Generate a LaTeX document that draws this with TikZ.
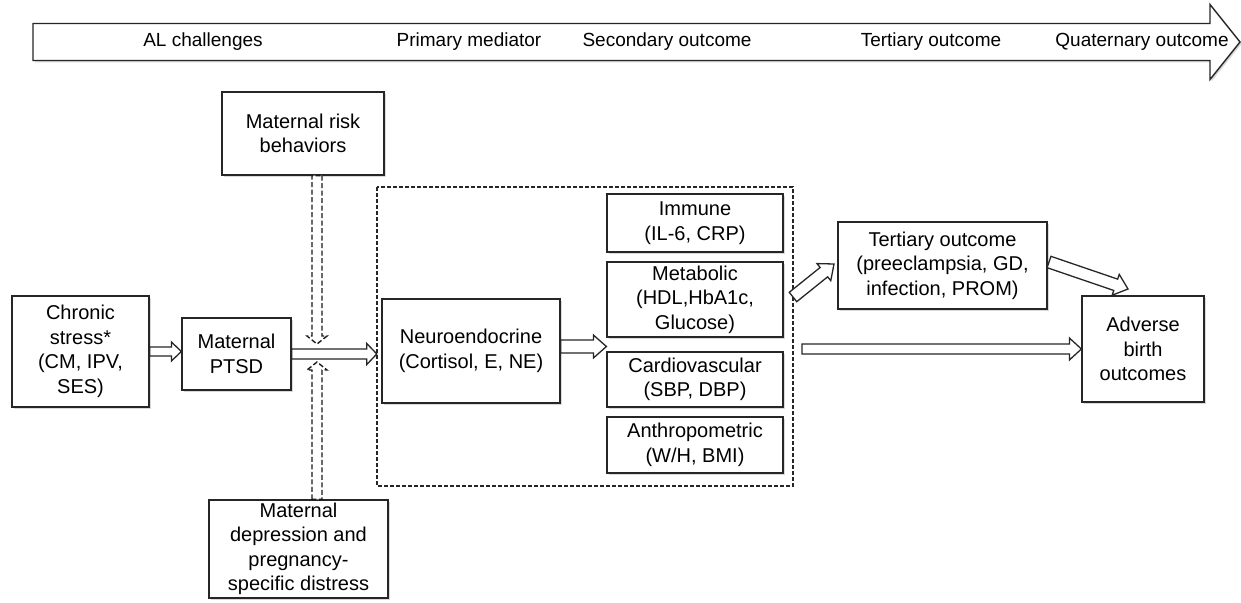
\documentclass[tikz,border=0pt]{standalone}
\usepackage{fontspec}
\setmainfont{Liberation Sans}
\usetikzlibrary{calc,shadows}
\newcommand\blockarrow[6][]{%
  \coordinate (bas) at (#2);
  \coordinate (bae) at (#3);
  \coordinate (bah) at ($(bae)!#6!(bas)$);
  \draw[#1] ($(bas)!#4!90:(bae)$) -- ($(bah)!#4!90:(bae)$) -- ($(bah)!#5!90:(bae)$)
    -- (bae) -- ($(bah)!#5!-90:(bae)$) -- ($(bah)!#4!-90:(bae)$) -- ($(bas)!#4!-90:(bae)$) -- cycle;
}
\tikzset{
  box/.style={draw=black!85, line width=1.2pt, fill=white, inner sep=0pt, align=center,
    font=\fontsize{20}{24.5}\selectfont,
    drop shadow={shadow xshift=1.5pt, shadow yshift=-2pt, fill=black!25, opacity=.6}},
  barrow/.style={draw=black!85, line width=1.3pt, fill=white, line join=miter},
  dbarrow/.style={draw=black!90, line width=1.4pt, fill=white, dash pattern=on 5pt off 2.5pt},
  toplabel/.style={font=\fontsize{19}{22}\selectfont, anchor=center}
}
\begin{document}
\begin{tikzpicture}[x=1pt,y=-1pt]
\useasboundingbox (0,0) rectangle (1241,602);
% timeline arrow
\coordinate (tl) at (33,42);
\coordinate (tr) at (1240,42);
\blockarrow[barrow, line width=1.4pt, drop shadow={shadow xshift=1.5pt, shadow yshift=-2pt, fill=black!25, opacity=.6}]{tl}{tr}{18.5pt}{37.5pt}{30pt}
\node[toplabel] (t1) at (203,42) {AL challenges};
\node[toplabel] (t2) at (469,42) {Primary mediator};
\node[toplabel] (t3) at (667,42) {Secondary outcome};
\node[toplabel] (t4) at (931,42) {Tertiary outcome};
\node[toplabel] (t5) at (1142,42) {Quaternary outcome};
% dashed frame
\draw[draw=black!85, line width=1.1pt, dash pattern=on 4pt off 2pt] (377,187) rectangle (793,486);
\node (dbox) at (585,336.5) [minimum width=416pt, minimum height=299pt, inner sep=0pt] {};
% boxes
\node[box, minimum width=162pt, minimum height=83pt] (risk) at (303,133.5) {Maternal risk\\behaviors};
\node[box, minimum width=137pt, minimum height=111pt] (chronic) at (80.5,351.5) {Chronic\\stress*\\(CM, IPV,\\SES)};
\node[box, minimum width=109pt, minimum height=72pt] (ptsd) at (236.5,354) {Maternal\\PTSD};
\node[box, minimum width=179pt, minimum height=98pt] (dep) at (298.5,549) {Maternal\\depression and\\pregnancy-\\specific distress};
\node[box, minimum width=178pt, minimum height=104pt] (neuro) at (471,351) {Neuroendocrine\\(Cortisol, E, NE)};
\node[box, minimum width=176pt, minimum height=58pt] (imm) at (695,223) {Immune\\(IL-6, CRP)};
\node[box, minimum width=176pt, minimum height=75pt] (met) at (695,299.5) {Metabolic\\(HDL,HbA1c,\\Glucose)};
\node[box, minimum width=176pt, minimum height=55pt] (card) at (695,379.5) {Cardiovascular\\(SBP, DBP)};
\node[box, minimum width=176pt, minimum height=56pt] (anth) at (695,445) {Anthropometric\\(W/H, BMI)};
\node[box, minimum width=209pt, minimum height=87pt] (tert) at (942.5,265.5) {Tertiary outcome\\(preeclampsia, GD,\\infection, PROM)};
\node[box, minimum width=122pt, minimum height=106pt] (adv) at (1143,349) {Adverse\\birth\\outcomes};
% connectors
\blockarrow[barrow]{chronic.east}{chronic.east -| ptsd.west}{4.5pt}{9.5pt}{10pt}
\coordinate (pe) at ($(ptsd.east)+(0,0)$);
\blockarrow[barrow]{pe}{pe -| dbox.west}{5pt}{10.5pt}{10pt}
\coordinate (ne) at ($(neuro.east)+(0,-4.5)$);
\blockarrow[barrow]{ne}{ne -| met.west}{6.5pt}{11.5pt}{13pt}
\coordinate (ls) at (802,349);
\blockarrow[barrow]{ls}{ls -| adv.west}{5pt}{11pt}{12pt}
\coordinate (ds) at (793,297);
\coordinate (de) at (834,264);
\blockarrow[barrow]{ds}{de}{6pt}{11pt}{13pt}
\coordinate (ts) at (1049,262);
\coordinate (te) at (1128,289);
\blockarrow[barrow]{ts}{te}{6pt}{11pt}{13pt}
\coordinate (rd) at (317,344);
\blockarrow[dbarrow]{risk.south -| rd}{rd}{5pt}{10pt}{8pt}
\coordinate (du) at (317,362);
\blockarrow[dbarrow]{dep.north -| du}{du}{5pt}{10pt}{8pt}
\end{tikzpicture}
\end{document}
